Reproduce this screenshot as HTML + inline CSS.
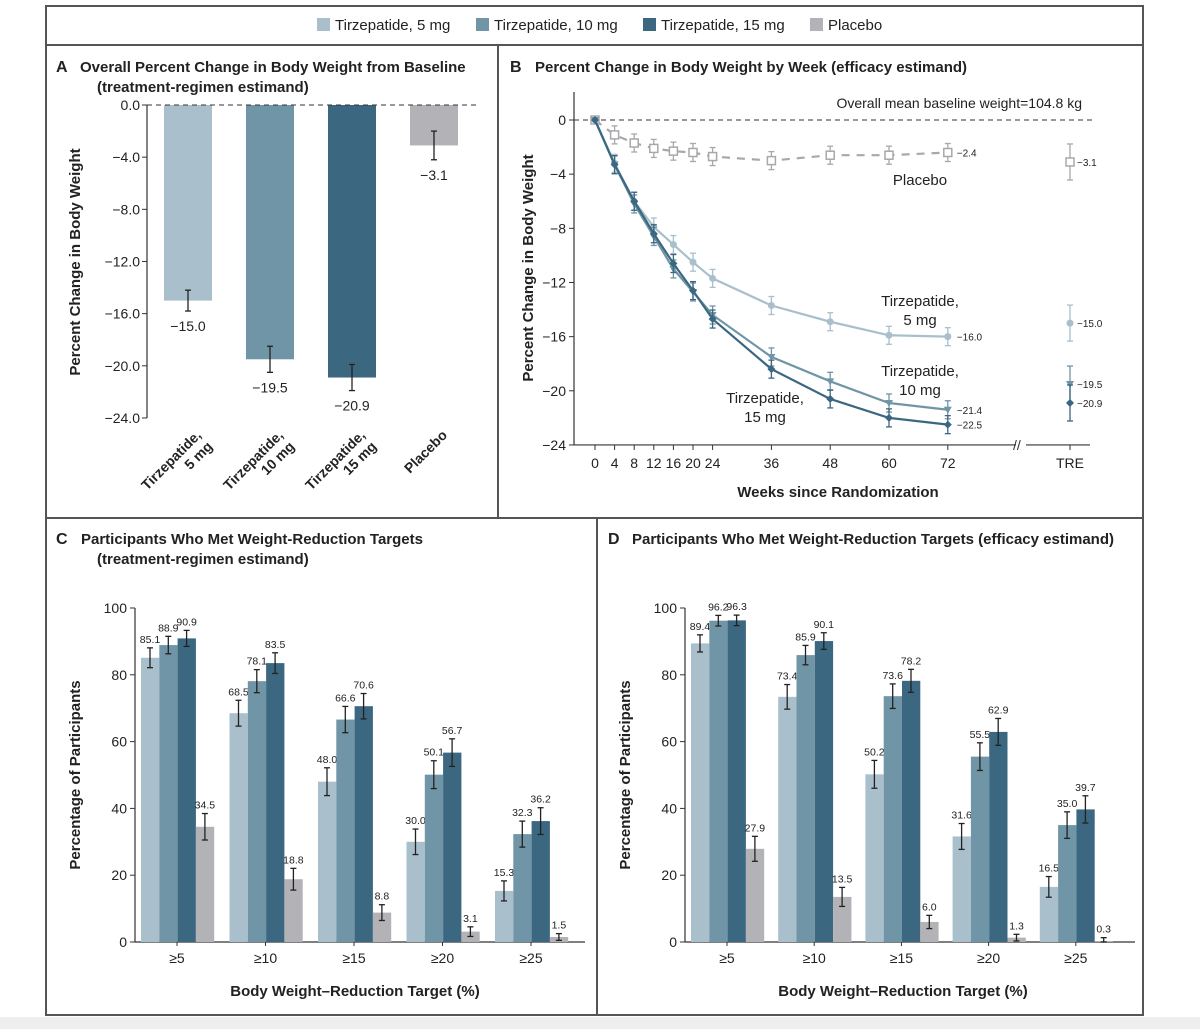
<!DOCTYPE html>
<html><head><meta charset="utf-8"><style>
body{margin:0;background:#fff;}
svg{display:block;font-family:"Liberation Sans",sans-serif;}
</style></head><body>
<svg id="s" width="1200" height="1029" viewBox="0 0 1200 1029" xmlns="http://www.w3.org/2000/svg">
<rect x="0" y="1017" width="1200" height="12" fill="#eeeeee"/>
<g fill="none" stroke="#555" stroke-width="2">
<rect x="46" y="6" width="1097" height="1009"/>
<line x1="46" y1="45" x2="1143" y2="45"/>
<line x1="498" y1="45" x2="498" y2="518"/>
<line x1="46" y1="518" x2="1143" y2="518"/>
<line x1="597" y1="518" x2="597" y2="1015"/>
</g>
<g id="legend" font-size="15" fill="#222"></g>
<g id="pA"></g>
<g id="pB"></g>
<g id="pC"></g>
<g id="pD"></g>
</svg>
<script>
const NS="http://www.w3.org/2000/svg";
const COLORS=["#a9bfcc","#6f95a6","#3b6780","#b3b3b7"];
const SERIES=["Tirzepatide, 5 mg","Tirzepatide, 10 mg","Tirzepatide, 15 mg","Placebo"];
// Panel A
const aValues=[-15.0,-19.5,-20.9,-3.1];
const aErr=[0.8,1.0,1.0,1.1];
const aTicks=[0,-4,-8,-12,-16,-20,-24];
// Panel B
const bWeeks=[0,4,8,12,16,20,24,36,48,60,72];
const bPlacebo=[0,-1.1,-1.7,-2.1,-2.3,-2.4,-2.7,-3.0,-2.6,-2.6,-2.4];
const b5=[0,-3.2,-6.0,-7.9,-9.2,-10.5,-11.7,-13.7,-14.9,-15.9,-16.0];
const b10=[0,-3.3,-6.2,-8.6,-11.0,-12.7,-14.4,-17.5,-19.3,-20.9,-21.4];
const b15=[0,-3.3,-6.0,-8.4,-10.6,-12.6,-14.7,-18.4,-20.6,-22.0,-22.5];
const bTRE=[-15.0,-19.5,-20.9,-3.1];
const bTicks=[0,-4,-8,-12,-16,-20,-24];
// Panel C/D
const targets=["≥5","≥10","≥15","≥20","≥25"];
const c5=[85.1,68.5,48.0,30.0,15.3];
const c10=[88.9,78.1,66.6,50.1,32.3];
const c15=[90.9,83.5,70.6,56.7,36.2];
const cPl=[34.5,18.8,8.8,3.1,1.5];
const d5=[89.4,73.4,50.2,31.6,16.5];
const d10=[96.2,85.9,73.6,55.5,35.0];
const d15=[96.3,90.1,78.2,62.9,39.7];
const dPl=[27.9,13.5,6.0,1.3,0.3];
const pctTicks=[0,20,40,60,80,100];

function el(p,tag,attrs,txt){const e=document.createElementNS(NS,tag);for(const k in attrs)e.setAttribute(k,attrs[k]);if(txt!==undefined)e.textContent=txt;p.appendChild(e);return e;}

// legend
const lg=document.getElementById('legend');
const lx=[317,476,643,810];
SERIES.forEach((s,i)=>{
 const r=el(lg,'rect',{x:lx[i],y:18,width:13,height:13,fill:COLORS[i]});
 
 
 const t=el(lg,'text',{x:lx[i]+18,y:30},s);
 
 
});

function title(g,letterX,x,x2,y,lines){
 el(g,'text',{x:letterX,y:y,'font-size':16,'font-weight':'bold',fill:'#222'},lines[0][0]);
 lines.forEach((l,i)=>el(g,'text',{x:i===0?x:x2,y:y+i*20,'font-size':15,'font-weight':'bold',fill:'#222'},l[1]));
}
function err(g,x,y1,y2,c){el(g,'line',{x1:x,y1:y1,x2:x,y2:y2,stroke:c,'stroke-width':1.3});el(g,'line',{x1:x-3,y1:y1,x2:x+3,y2:y1,stroke:c,'stroke-width':1.3});el(g,'line',{x1:x-3,y1:y2,x2:x+3,y2:y2,stroke:c,'stroke-width':1.3});}

// Panel A
(function(){
 const g=document.getElementById('pA');
 title(g,56,80,97,72,[["A","Overall Percent Change in Body Weight from Baseline"],["","(treatment-regimen estimand)"]]);
 const y=v=>105+(-v)*13.04, ax=147;
 el(g,'line',{x1:ax,y1:y(0),x2:ax,y2:y(-24),stroke:'#333','stroke-width':1.2});
 aTicks.forEach(t=>{el(g,'line',{x1:ax-5,y1:y(t),x2:ax,y2:y(t),stroke:'#333'});el(g,'text',{x:ax-7,y:y(t)+5,'font-size':14,'text-anchor':'end',fill:'#222'},(t===0?'0.0':'−'+(-t).toFixed(1)));});
 el(g,'text',{transform:`translate(80,262) rotate(-90)`,'font-size':15,'font-weight':'bold','text-anchor':'middle',fill:'#222'},'Percent Change in Body Weight');
 const xs=[164,246,328,410];
 const labs=[["Tirzepatide,","5 mg"],["Tirzepatide,","10 mg"],["Tirzepatide,","15 mg"],["Placebo",""]];
 aValues.forEach((v,i)=>{
  const b=el(g,'rect',{x:xs[i],y:y(0),width:48,height:y(v)-y(0),fill:COLORS[i]});
  
  
  const cx=xs[i]+24;
  err(g,cx,y(v-aErr[i]),y(v+aErr[i]),'#222');
  el(g,'text',{x:cx,y:y(v-aErr[i])+20,'font-size':14,'text-anchor':'middle',fill:'#222'},'−'+(-v).toFixed(1));
  const tg=el(g,'text',{transform:`translate(${cx+14},436) rotate(-45)`,'font-size':14,'font-weight':'bold','text-anchor':'end',fill:'#222'});
  el(tg,'tspan',{x:0,dy:0},labs[i][0]);el(tg,'tspan',{x:0,dy:16},labs[i][1]);
 });
 el(g,'line',{x1:ax,y1:y(0),x2:478,y2:y(0),stroke:'#333','stroke-dasharray':'5,4'});
})();

// Panel B
(function(){
 const g=document.getElementById('pB');
 title(g,510,535,535,72,[["B","Percent Change in Body Weight by Week (efficacy estimand)"]]);
 const y=v=>120+(-v)*13.54, x=w=>595+w*4.9, ax=574, tx=1070;
 el(g,'line',{x1:ax,y1:92,x2:ax,y2:y(-24),stroke:'#333','stroke-width':1.2});
 el(g,'line',{x1:ax,y1:y(-24),x2:1016,y2:y(-24),stroke:'#333','stroke-width':1.2});
 el(g,'line',{x1:1026,y1:y(-24),x2:1090,y2:y(-24),stroke:'#333','stroke-width':1.2});
 el(g,'text',{x:1013,y:y(-24)+5,'font-size':14,fill:'#333'},'//');
 bTicks.forEach(t=>{el(g,'line',{x1:ax-5,y1:y(t),x2:ax,y2:y(t),stroke:'#333'});el(g,'text',{x:ax-8,y:y(t)+5,'font-size':14,'text-anchor':'end',fill:'#222'},t===0?'0':'−'+(-t));});
 bWeeks.forEach(w=>{el(g,'line',{x1:x(w),y1:y(-24),x2:x(w),y2:y(-24)+5,stroke:'#333'});el(g,'text',{x:x(w),y:468,'font-size':14,'text-anchor':'middle',fill:'#222'},w);});
 el(g,'line',{x1:tx,y1:y(-24),x2:tx,y2:y(-24)+5,stroke:'#333'});
 el(g,'text',{x:tx,y:468,'font-size':14,'text-anchor':'middle',fill:'#222'},'TRE');
 el(g,'text',{x:838,y:497,'font-size':15,'font-weight':'bold','text-anchor':'middle',fill:'#222'},'Weeks since Randomization');
 el(g,'text',{transform:`translate(533,268) rotate(-90)`,'font-size':15,'font-weight':'bold','text-anchor':'middle',fill:'#222'},'Percent Change in Body Weight');
 el(g,'line',{x1:ax,y1:y(0),x2:1092,y2:y(0),stroke:'#333','stroke-dasharray':'5,4'});
 el(g,'text',{x:1082,y:108,'font-size':14,'text-anchor':'end',fill:'#222'},'Overall mean baseline weight=104.8 kg');
 const sets=[[bPlacebo,3,'sq',true],[b5,0,'c',false],[b10,1,'tri',false],[b15,2,'dia',false]];
 sets.forEach(([d,ci,m,dash])=>{
  const c=COLORS[ci]==='#b3b3b7'?'#a8a8ac':COLORS[ci];
  const p=el(g,'polyline',{points:bWeeks.map((w,i)=>x(w)+','+y(d[i])).join(' '),fill:'none',stroke:c,'stroke-width':2.2,'stroke-dasharray':dash?'8,7':'none'});
  
  
  bWeeks.forEach((w,i)=>{
   const px=x(w),py=y(d[i]);
   if(i>0)err(g,px,py-9,py+9,c);
   if(m==='sq')el(g,'rect',{x:px-4,y:py-4,width:8,height:8,fill:'#fff',stroke:c,'stroke-width':1.5});
   else if(m==='c')el(g,'circle',{cx:px,cy:py,r:3.5,fill:c});
   else if(m==='tri')el(g,'polygon',{points:`${px-4},${py-3} ${px+4},${py-3} ${px},${py+4}`,fill:c});
   else el(g,'polygon',{points:`${px},${py-4} ${px+4},${py} ${px},${py+4} ${px-4},${py}`,fill:c});
  });
  el(g,'text',{x:x(72)+9,y:y(d[10])+4,'font-size':10,fill:'#222'},'−'+(-d[10]).toFixed(1));
  const tv=bTRE[ci], ty=y(tv);
  err(g,tx,ty-18,ty+18,c);
  if(m==='sq')el(g,'rect',{x:tx-4,y:ty-4,width:8,height:8,fill:'#fff',stroke:c,'stroke-width':1.5});
  else if(m==='c')el(g,'circle',{cx:tx,cy:ty,r:3.5,fill:c});
  else if(m==='tri')el(g,'polygon',{points:`${tx-4},${ty-3} ${tx+4},${ty-3} ${tx},${ty+4}`,fill:c});
  else el(g,'polygon',{points:`${tx},${ty-4} ${tx+4},${ty} ${tx},${ty+4} ${tx-4},${ty}`,fill:c});
  el(g,'text',{x:tx+7,y:ty+4,'font-size':10,fill:'#222'},'−'+(-tv).toFixed(1));
 });
 const lt=(xx,yy,a,b)=>{el(g,'text',{x:xx,y:yy,'font-size':15,'text-anchor':'middle',fill:'#222'},a);if(b)el(g,'text',{x:xx,y:yy+19,'font-size':15,'text-anchor':'middle',fill:'#222'},b);};
 lt(920,185,'Placebo');lt(920,306,'Tirzepatide,','5 mg');lt(920,376,'Tirzepatide,','10 mg');lt(765,403,'Tirzepatide,','15 mg');
})();

// Panels C/D
function barPanel(id,letterX,titleX,titleX2,lines,ax,g0,sp,vals,ylabelX,xlabelX){
 const g=document.getElementById(id);
 title(g,letterX,titleX,titleX2,544,lines);
 const y=v=>942-v*3.34;
 el(g,'line',{x1:ax,y1:y(0),x2:ax,y2:y(100),stroke:'#333','stroke-width':1.2});
 el(g,'line',{x1:ax,y1:y(0),x2:ax+450,y2:y(0),stroke:'#333','stroke-width':1.2});
 pctTicks.forEach(t=>{el(g,'line',{x1:ax-5,y1:y(t),x2:ax,y2:y(t),stroke:'#333'});el(g,'text',{x:ax-8,y:y(t)+5,'font-size':14,'text-anchor':'end',fill:'#222'},t);});
 el(g,'text',{transform:`translate(${ylabelX},775) rotate(-90)`,'font-size':15,'font-weight':'bold','text-anchor':'middle',fill:'#222'},'Percentage of Participants');
 el(g,'text',{x:xlabelX,y:996,'font-size':15,'font-weight':'bold','text-anchor':'middle',fill:'#222'},'Body Weight–Reduction Target (%)');
 targets.forEach((t,gi)=>{
  const gx=g0+gi*sp;
  el(g,'text',{x:gx+36,y:963,'font-size':14,'text-anchor':'middle',fill:'#222'},t);
  el(g,'line',{x1:gx+36,y1:y(0),x2:gx+36,y2:y(0)+4,stroke:'#333'});
  vals.forEach((arr,si)=>{
   const v=arr[gi],bx=gx+si*18.3;
   const b=el(g,'rect',{x:bx,y:y(v),width:18.3,height:y(0)-y(v),fill:COLORS[si]});
   
   
   const e=Math.max(1,Math.min(4.2,Math.sqrt(v*(100-v))/12));
   err(g,bx+9,y(v+e),y(Math.max(0,v-e)),'#222');
   el(g,'text',{x:bx+9,y:y(v+e)-5,'font-size':10.5,'text-anchor':'middle',fill:'#222'},v.toFixed(1));
  });
 });
}
barPanel('pC',56,81,97,[["C","Participants Who Met Weight-Reduction Targets"],["","(treatment-regimen estimand)"]],135,141,88.5,[c5,c10,c15,cPl],80,355);
barPanel('pD',608,632,632,[["D","Participants Who Met Weight-Reduction Targets (efficacy estimand)"]],685,691,87.2,[d5,d10,d15,dPl],630,903);
</script>
</body></html>
